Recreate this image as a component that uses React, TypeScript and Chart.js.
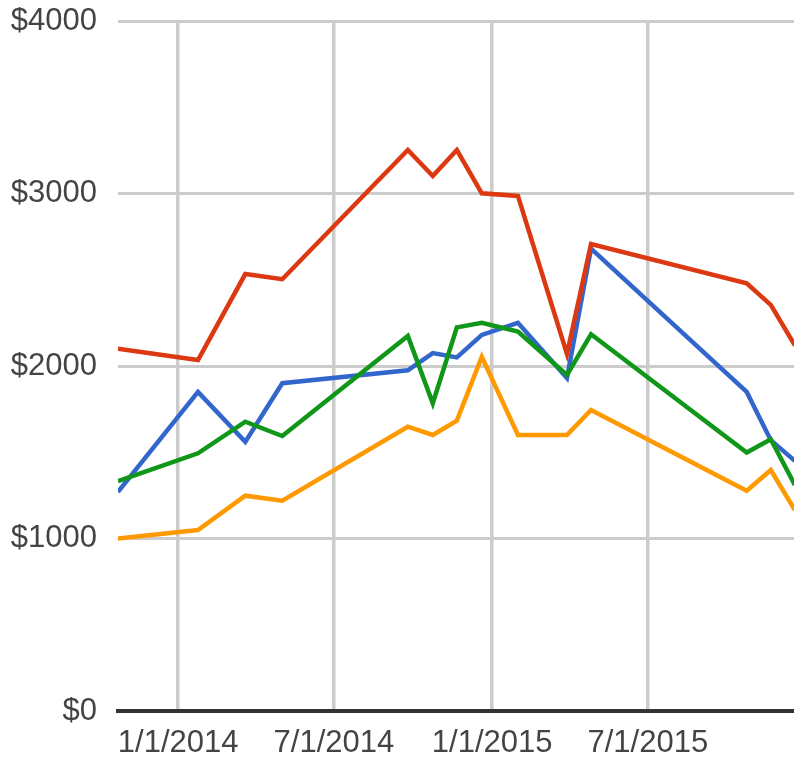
import React, { useEffect, useRef } from "react";
import { Chart, registerables } from "chart.js";

Chart.register(...registerables);

const dates = [
  "2013-10-23", "2014-01-24", "2014-03-20", "2014-05-02", "2014-09-25",
  "2014-10-24", "2014-11-21", "2014-12-20", "2015-01-31", "2015-03-29",
  "2015-04-26", "2015-10-24", "2015-11-21", "2015-12-19",
];
const blueValues = [1270, 1850, 1560, 1900, 1975, 2075, 2050, 2180, 2250, 1930, 2680, 1850, 1570, 1450];
const redValues = [2100, 2035, 2533, 2503, 3252, 3101, 3252, 3001, 2986, 2070, 2707, 2479, 2354, 2120];
const orangeValues = [1000, 1049, 1248, 1219, 1648, 1600, 1683, 2054, 1600, 1600, 1745, 1277, 1397, 1165];
const greenValues = [1333, 1494, 1677, 1594, 2174, 1784, 2224, 2251, 2199, 1948, 2184, 1498, 1575, 1310];

const xMinDate = "2013-10-23";
const xMaxDate = "2015-12-18";
const tickDates = ["2014-01-01", "2014-07-01", "2015-01-01", "2015-07-01"];
const tickLabels = ["1/1/2014", "7/1/2014", "1/1/2015", "7/1/2015"];
const yTicks = [0, 1000, 2000, 3000, 4000];

const EPOCH = Date.UTC(2014, 0, 1);
function toDay(s: string): number {
  const [y, m, d] = s.split("-").map(Number);
  return Math.round((Date.UTC(y, m - 1, d) - EPOCH) / 86400000);
}

export default function App() {
  const ref = useRef<HTMLCanvasElement | null>(null);
  useEffect(() => {
    if (!ref.current) return;
    const days = dates.map(toDay);
    const mk = (vals: number[]) => vals.map((v, i) => ({ x: days[i], y: v }));
    const tickDays = tickDates.map(toDay);
    const font = { family: "'Liberation Sans', Arial, sans-serif", size: 31 };
    const ds = (data: number[], color: string) => ({
      data: mk(data),
      borderColor: color,
      backgroundColor: color,
      borderWidth: 4.5,
      pointRadius: 0,
      tension: 0,
      fill: false,
    });
    const zeroPad = (scale: any) => {
      scale.paddingTop = 0;
      scale.paddingBottom = 0;
      scale.paddingLeft = 0;
      scale.paddingRight = 0;
    };
    const chart = new Chart(ref.current, {
      type: "line",
      data: {
        datasets: [
          ds(greenValues, "#109618"),
          ds(orangeValues, "#ff9900"),
          ds(redValues, "#dc3912"),
          ds(blueValues, "#3366cc"),
        ],
      },
      options: {
        animation: false,
        responsive: false,
        maintainAspectRatio: false,
        layout: { padding: { top: 21, left: 0, right: 0, bottom: 0 } },
        plugins: { legend: { display: false }, tooltip: { enabled: false } },
        scales: {
          x: {
            type: "linear",
            min: toDay(xMinDate),
            max: toDay(xMaxDate),
            afterBuildTicks: (scale: any) => {
              scale.ticks = tickDays.map((v) => ({ value: v }));
            },
            afterFit: (scale: any) => {
              scale.height = 48;
              zeroPad(scale);
            },
            ticks: {
              font,
              color: "#444",
              padding: 14,
              maxRotation: 0,
              autoSkip: false,
              callback: (v: any) => {
                const i = tickDays.indexOf(Number(v));
                return i >= 0 ? tickLabels[i] : "";
              },
            },
            grid: { color: "#cccccc", lineWidth: 3.5, drawTicks: false },
            border: { display: true, color: "#333333", width: 4 },
          },
          y: {
            type: "linear",
            min: 0,
            max: 4000,
            afterBuildTicks: (scale: any) => {
              scale.ticks = yTicks.map((v) => ({ value: v }));
            },
            afterFit: (scale: any) => {
              scale.width = 118;
              zeroPad(scale);
            },
            ticks: {
              font,
              color: "#444",
              padding: 21,
              callback: (v: any) => "$" + v,
            },
            grid: { color: "#cccccc", lineWidth: 3, drawTicks: false },
            border: { display: false },
          },
        },
      },
    } as any);
    return () => chart.destroy();
  }, []);
  return (
    <div style={{ position: "absolute", left: 0, top: 0, width: 794, height: 759, background: "#fff" }}>
      <canvas ref={ref} width={794} height={759} style={{ display: "block" }} />
    </div>
  );
}
